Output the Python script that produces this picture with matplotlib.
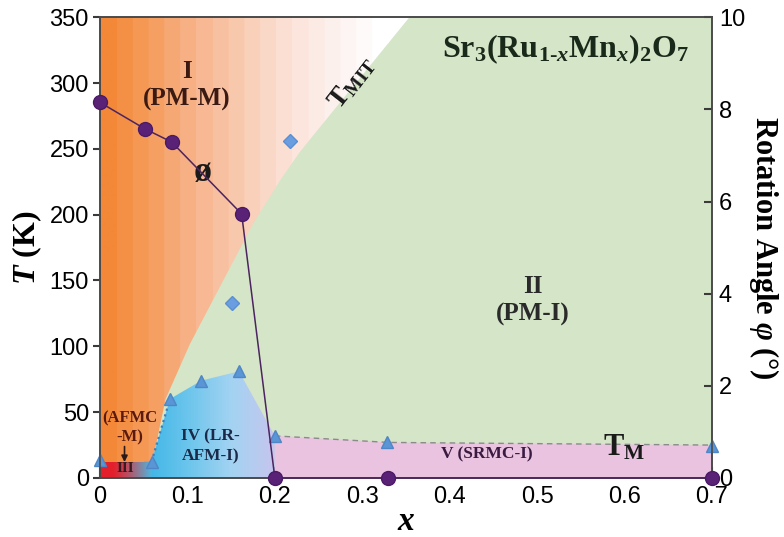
import numpy as np
import matplotlib
matplotlib.use("Agg")
import matplotlib.pyplot as plt
from matplotlib.colors import LinearSegmentedColormap
from matplotlib.patches import Polygon

plt.rcParams["mathtext.fontset"] = "custom"
plt.rcParams["mathtext.rm"] = "Liberation Serif:bold"
plt.rcParams["mathtext.it"] = "Liberation Serif:italic:bold"
plt.rcParams["mathtext.bf"] = "Liberation Serif:bold"
plt.rcParams["mathtext.sf"] = "Liberation Serif:bold"

# ---- data ----
# rotation angle phi (deg) vs Mn content x
phi_x = [0.0, 0.051, 0.082, 0.162, 0.2, 0.33, 0.7]
phi_deg = [8.15, 7.58, 7.29, 5.73, 0.0, 0.0, 0.0]

# magnetic transition temperatures (K)
tn_x = [0.0, 0.059, 0.08, 0.116, 0.159, 0.2, 0.328, 0.7]
tn_T = [13.5, 12.4, 60, 74, 81, 32, 27, 24]

# metal-insulator transition temperatures (K)
tmit_pts_x = [0.151, 0.217]
tmit_pts_T = [133, 256]

# T_MIT phase boundary
mit_x = [0.075, 0.103, 0.137, 0.175, 0.206, 0.229, 0.354]
mit_T = [60, 102, 145, 193, 226, 248, 350]

# T_M boundary of the short-range-order phase
tm_x = [0.2, 0.33, 0.7]
tm_T = [32, 27, 25]

x_ticks = [0, 0.1, 0.2, 0.3, 0.4, 0.5, 0.6, 0.7]
x_ticklabels = ["0", "0.1", "0.2", "0.3", "0.4", "0.5", "0.6", "0.7"]
t_ticks = [0, 50, 100, 150, 200, 250, 300, 350]
phi_ticks = [0, 2, 4, 6, 8, 10]

serif = "Liberation Serif"
sans = "Liberation Sans"

fig = plt.figure(figsize=(7.84, 5.37), dpi=100)
ax = fig.add_axes([0.1276, 0.1099, 0.7804, 0.8581])
ax.set_xlim(0, 0.7)
ax.set_ylim(0, 350)
ax.set_facecolor("#d5e5c8")

# phase I: paramagnetic metal, orange fading to white
orange = LinearSegmentedColormap.from_list(
    "orange_fade",
    ["#f38838", "#f59f60", "#f7b68f", "#f9cdb4", "#fce2d8", "#fdf1ee", "#ffffff"],
    N=18)
poly_I = [(0, 0), (0, 350)] + list(zip(mit_x[::-1], mit_T[::-1])) + [(0.06, 12.4), (0.06, 0)]
patch_I = Polygon(poly_I, closed=True, facecolor="none", edgecolor="none")
ax.add_patch(patch_I)
grad = np.linspace(0, 1, 256).reshape(1, -1)
im = ax.imshow(grad, extent=[0, 0.33, 0, 350], aspect="auto", cmap=orange,
               origin="lower", zorder=1)
im.set_clip_path(patch_I)
wpoly = Polygon([(0.33, 0), (0.33, 350), (0.36, 350), (0.36, 0)], closed=True,
                facecolor="#ffffff", edgecolor="none", zorder=0.9)
wclip = Polygon(poly_I, closed=True, facecolor="none", edgecolor="none")
ax.add_patch(wclip)
ax.add_patch(wpoly)
wpoly.set_clip_path(wclip)

# phase IV: long-range antiferromagnetic insulator
blue = LinearSegmentedColormap.from_list(
    "blue_fade", ["#3cb5e6", "#6cc5ec", "#a3d3f2", "#c7c5ee"], N=64)
poly_IV = [(0.045, 0), (0.045, 12.4), (0.059, 12.4), (0.08, 60), (0.116, 74),
           (0.159, 81), (0.2, 32), (0.2, 0)]
patch_IV = Polygon(poly_IV, closed=True, facecolor="none", edgecolor="none")
ax.add_patch(patch_IV)
im2 = ax.imshow(grad, extent=[0.05, 0.2, 0, 90], aspect="auto", cmap=blue,
                origin="lower", zorder=2)
im2.set_clip_path(patch_IV)

# phase III strip at low T, red blending into the blue phase
red = LinearSegmentedColormap.from_list(
    "red_strip", ["#e41f2b", "#e41f2b", "#c0485a", "#8a7d98", "#4fb6e0"], N=64)
patch_III = Polygon([(0, 0), (0, 12.4), (0.059, 12.4), (0.059, 0)], closed=True,
                    facecolor="none", edgecolor="none")
ax.add_patch(patch_III)
im3 = ax.imshow(grad, extent=[0, 0.059, 0, 12.4], aspect="auto", cmap=red,
                origin="lower", zorder=2.5)
im3.set_clip_path(patch_III)

# phase V: short-range magnetically correlated insulator
poly_V = [(0.2, 0)] + list(zip(tm_x, tm_T)) + [(0.7, 0)]
ax.add_patch(Polygon(poly_V, closed=True, facecolor="#e9c3df", edgecolor="none",
                     zorder=2))

ax.set_xlim(0, 0.7)
ax.set_ylim(0, 350)

# boundaries
ax.plot(tm_x, tm_T, color="#8a8a8a", lw=1.0, dashes=(4, 3), zorder=3)
ax.plot([0.059, 0.08], [12.4, 60], color="#3a7fc0", lw=1.6, ls=":", zorder=3)

# transition temperatures
ax.plot(tn_x, tn_T, ls="none", marker="^", ms=8, color="#5a95d6",
        markeredgecolor="#4f86c6", zorder=5, clip_on=False)
ax.plot(tmit_pts_x, tmit_pts_T, ls="none", marker="D", ms=7, color="#6a9ee0",
        markeredgecolor="#5b8fd0", zorder=5, clip_on=False)

# rotation angle on the right axis
ax2 = ax.twinx()
ax2.set_ylim(0, 10)
ax2.plot(phi_x, phi_deg, color="#4b2460", lw=1.1, marker="o", ms=10,
         markerfacecolor="#5a2277", markeredgecolor="#4b1a66", zorder=6,
         clip_on=False)

# ticks and spines
for a in (ax, ax2):
    for s in a.spines.values():
        s.set_color("#4a4a4a")
        s.set_linewidth(1.2)
ax.set_xticks(x_ticks)
ax.set_xticklabels(x_ticklabels, fontfamily=sans, fontsize=17)
ax.set_yticks(t_ticks)
ax.set_yticklabels([str(t) for t in t_ticks], fontfamily=sans, fontsize=17)
ax.tick_params(axis="x", direction="in", length=8, width=1.5, color="#3a2a40",
               pad=6)
ax.tick_params(axis="y", direction="out", length=5, width=1.5, color="#3a3a3a",
               pad=3)
ax2.set_yticks(phi_ticks)
ax2.set_yticklabels([str(p) for p in phi_ticks], fontfamily=sans, fontsize=17)
ax2.tick_params(axis="y", direction="in", length=6, width=1.5, color="#3a3a3a",
                pad=5)

# axis titles
ax.set_ylabel(r"$T$ (K)", fontfamily=serif, fontweight="bold", fontsize=23,
              labelpad=4)
ax.set_xlabel(r"$x$", fontfamily=serif, fontweight="bold", fontsize=24,
              labelpad=-2)
ax2.set_ylabel(r"Rotation Angle $φ$ (°)", fontfamily=serif, fontweight="bold",
               fontsize=22, rotation=270, labelpad=26)

# region and line labels
tk = dict(fontfamily=serif, fontweight="bold", ha="center", va="center")
ax.text(0.099, 298, "I\n(PM-M)", fontsize=18, color="#3a1a12", zorder=7,
        linespacing=1.25, **tk)
ax.text(0.495, 135, "II\n(PM-I)", fontsize=18, color="#2a2a2a", zorder=7,
        linespacing=1.25, **tk)
ax.text(0.126, 24, "IV (LR-\nAFM-I)", fontsize=12.5, color="#1a2a48", zorder=7,
        linespacing=1.3, **tk)
ax.text(0.034, 38, "(AFMC\n-M)", fontsize=12, color="#5a1a10", zorder=7,
        linespacing=1.25, **tk)
ax.text(0.029, 7.5, "III", fontsize=11, color="#3a1a20", zorder=7, **tk)
ax.annotate("", xy=(0.028, 10), xytext=(0.028, 26),
            arrowprops=dict(arrowstyle="-|>", color="#2a1a1a", lw=1.2,
                            mutation_scale=9), zorder=7)
ax.text(0.442, 18, "V (SRMC-I)", fontsize=12.5, color="#3a1a40", zorder=7, **tk)
ax.text(0.6, 23, r"T$_{\mathrm{M}}$", fontsize=22, color="#1a1a1a", zorder=7, **tk)
ax.text(0.288, 300, r"T$_{\mathrm{MIT}}$", fontsize=20, color="#1a1a1a",
        rotation=52, zorder=7, **tk)
ax.text(0.117, 232, "ø", fontsize=26, color="#1a1a1a", zorder=7, **tk)
ax.text(0.533, 326, r"Sr$_3$(Ru$_{1\text{-}x}$Mn$_x$)$_2$O$_7$", fontsize=23,
        color="#1a2a1a", zorder=7, **tk)

fig.savefig("out.png", dpi=100)
